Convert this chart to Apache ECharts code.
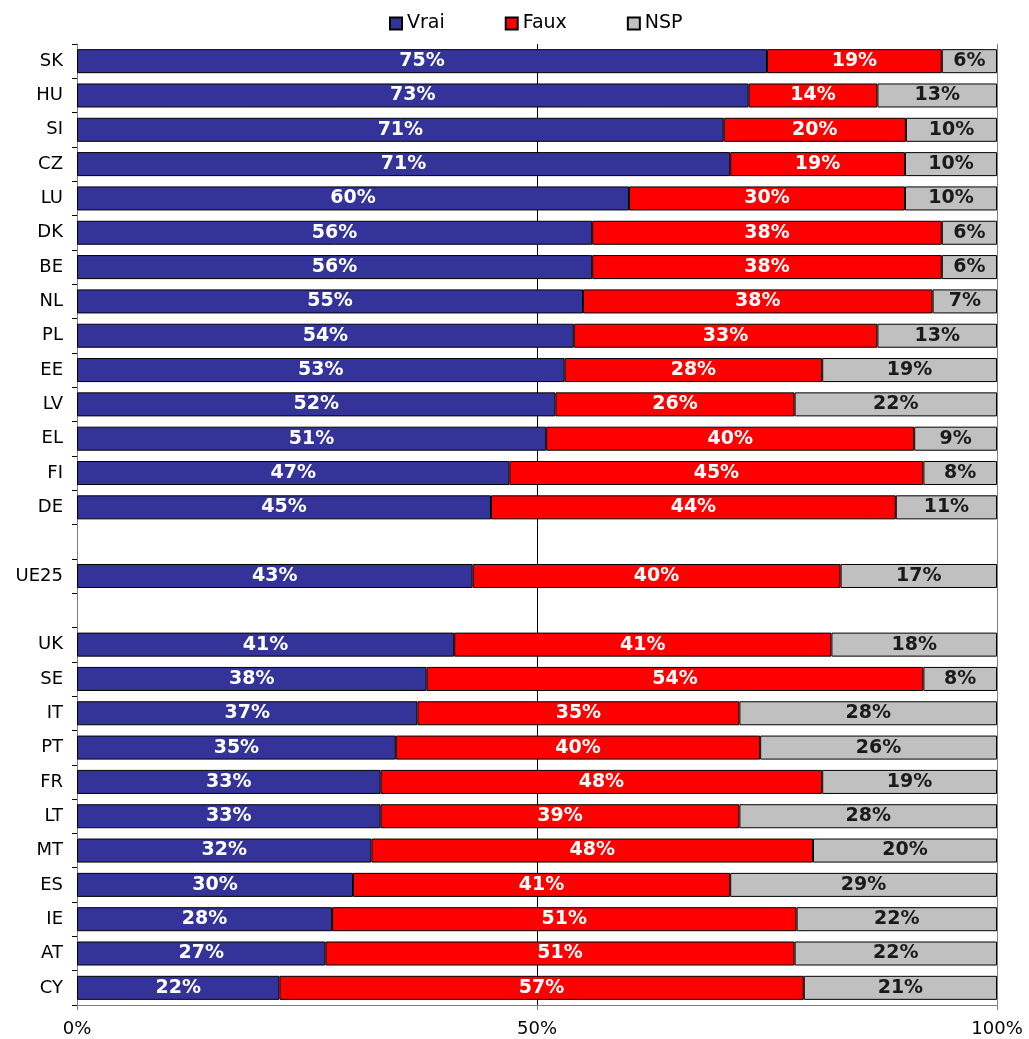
<!DOCTYPE html>
<html><head><meta charset="utf-8">
<script src="https://cdn.jsdelivr.net/npm/echarts@6/dist/echarts.min.js"></script>
<style>html,body{margin:0;padding:0;background:#fff}#c{width:1029px;height:1039px}</style>
</head><body><div id="c"></div>
<script>
const categories = ['SK','HU','SI','CZ','LU','DK','BE','NL','PL','EE','LV','EL','FI','DE','','UE25','','UK','SE','IT','PT','FR','LT','MT','ES','IE','AT','CY'];
const vrai = [75,73,71,71,60,56,56,55,54,53,52,51,47,45,null,43,null,41,38,37,35,33,33,32,30,28,27,22];
const faux = [19,14,20,19,30,38,38,38,33,28,26,40,45,44,null,40,null,41,54,35,40,48,39,48,41,51,51,57];
const nsp  = [6,13,10,10,10,6,6,7,13,19,22,9,8,11,null,17,null,18,8,28,26,19,28,20,29,22,22,21];
const xTicks = [0,50,100];
const seriesNames = ['Vrai','Faux','NSP'];
const colors = ['#333399','#FF0000','#C0C0C0'];
const labelColors = ['#ffffff','#ffffff','#1a1a1a'];
const raw = [vrai, faux, nsp];
const totals = categories.map((c,i)=> vrai[i]==null ? null : vrai[i]+faux[i]+nsp[i]);
const FONT = 'DejaVu Sans';

const series = raw.map((arr, k) => ({
  name: seriesNames[k],
  type: 'bar',
  stack: 'total',
  barCategoryGap: '30%',
  data: arr.map((v,i)=> v==null ? null : v / totals[i] * 100),
  itemStyle: { color: colors[k], borderColor: '#000', borderWidth: 1 },
  label: {
    show: true, position: 'inside',
    color: labelColors[k], fontFamily: FONT, fontWeight: 'bold', fontSize: 19,
    formatter: p => raw[k][p.dataIndex] + '%'
  },
  emphasis: { disabled: true }
}));

const chart = echarts.init(document.getElementById('c'), null, {renderer:'canvas'});
chart.setOption({
  animation: false,
  backgroundColor: '#fff',
  legend: {
    top: 9, left: 384, icon: 'rect', itemWidth: 12, itemHeight: 12, itemGap: 60,
    textStyle: { fontFamily: FONT, fontSize: 19, color: '#000' },
    data: seriesNames
  },
  grid: { left: 77, right: 32, top: 44, bottom: 34 },
  xAxis: {
    type: 'value', min: xTicks[0], max: xTicks[xTicks.length-1], interval: 50,
    axisLine: { show: true, lineStyle: { color: '#808080', width: 1 } },
    axisTick: { show: true, length: 5, lineStyle: { color: '#808080' } },
    axisLabel: { formatter: '{value}%', fontFamily: FONT, fontSize: 18, color: '#000', margin: 15 },
    splitLine: { show: true, lineStyle: { color: ['#808080','#000000','#808080'], width: 1 } }
  },
  yAxis: {
    type: 'category', inverse: true, data: categories,
    axisLine: { show: true, lineStyle: { color: '#808080', width: 1 } },
    axisTick: { show: true, length: 5, lineStyle: { color: '#000' } },
    axisLabel: { fontFamily: FONT, fontSize: 18, color: '#000', margin: 14 }
  },
  series: series
});
</script></body></html>
